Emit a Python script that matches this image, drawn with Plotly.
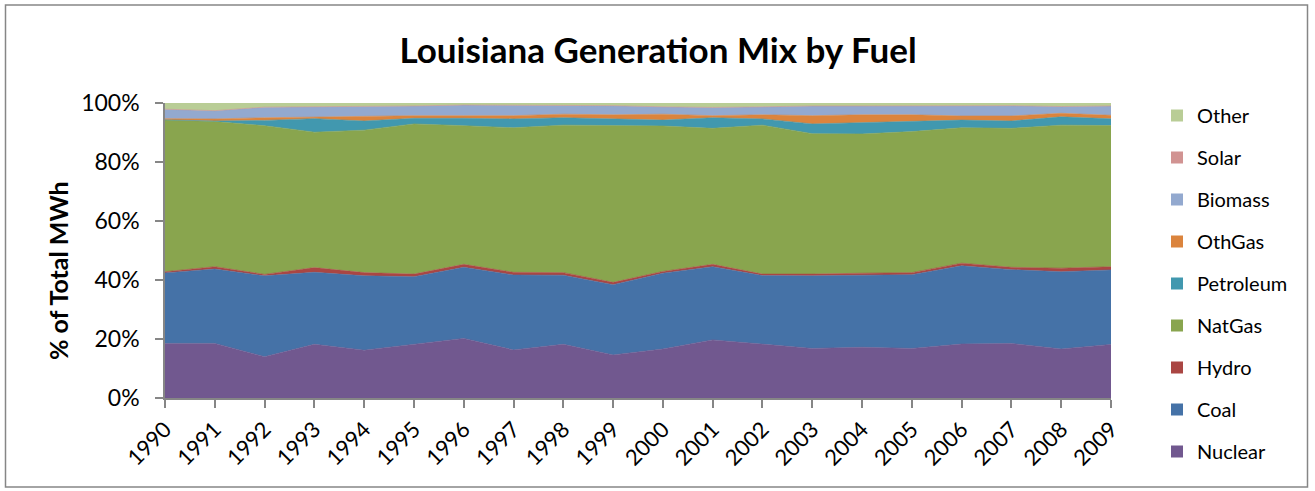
import plotly.graph_objects as go

years = list(range(1990, 2010))

nuclear  = [18.5, 18.5, 14.0, 18.2, 16.2, 18.3, 20.2, 16.3, 18.2, 14.6, 16.6, 19.7, 18.2, 16.8, 17.2, 16.8, 18.3, 18.5, 16.6, 18.3]
coal     = [23.9, 25.2, 27.4, 24.4, 25.2, 22.8, 24.1, 25.4, 23.4, 23.8, 25.7, 24.8, 23.3, 24.6, 24.4, 25.0, 26.5, 25.0, 26.2, 25.4]
hydro    = [0.4, 0.8, 0.5, 1.6, 1.1, 0.9, 1.0, 0.9, 0.9, 0.8, 0.6, 0.8, 0.5, 0.6, 0.7, 0.7, 0.9, 0.8, 1.2, 1.1]
natgas   = [51.4, 49.2, 50.4, 45.9, 48.3, 50.9, 47.0, 49.0, 50.0, 53.1, 49.3, 46.1, 50.5, 47.6, 47.2, 47.8, 45.9, 47.1, 48.5, 48.2]
petroleum = [0.1, 0.2, 1.8, 4.6, 3.1, 1.9, 2.5, 3.0, 2.5, 2.4, 2.0, 3.6, 2.1, 3.3, 3.9, 3.5, 2.6, 2.5, 2.8, 2.3]
othgas   = [0.4, 0.7, 0.9, 0.6, 1.6, 0.9, 0.9, 1.1, 1.2, 1.3, 2.0, 0.7, 1.4, 2.8, 2.6, 2.2, 1.4, 1.7, 1.2, 1.2]
biomass  = [3.2, 2.8, 3.6, 3.4, 3.3, 3.3, 3.6, 3.6, 2.9, 3.1, 2.5, 2.8, 2.7, 3.3, 3.0, 3.0, 3.5, 3.5, 2.3, 3.2]
solar    = [0.0] * 20
other    = [2.1, 2.6, 1.4, 1.3, 1.2, 1.0, 0.7, 0.7, 0.9, 0.9, 1.3, 1.5, 1.3, 1.0, 1.0, 1.0, 0.9, 0.9, 1.2, 1.0]

series = [
    ("Nuclear", nuclear, "#71588F"),
    ("Coal", coal, "#4572A7"),
    ("Hydro", hydro, "#AA4643"),
    ("NatGas", natgas, "#89A54E"),
    ("Petroleum", petroleum, "#4198AF"),
    ("OthGas", othgas, "#DB843D"),
    ("Biomass", biomass, "#93A9CF"),
    ("Solar", solar, "#D19392"),
    ("Other", other, "#B9CD96"),
]

PL, PR, PT, PB = 165, 1111, 103, 398
PW, PH = PR - PL, PB - PT

font_family = "Lato, 'Open Sans', sans-serif"

fig = go.Figure()
n = len(series)
for i, (name, vals, col) in enumerate(series):
    fig.add_trace(go.Scatter(
        x=years, y=vals, name=name, mode="lines",
        stackgroup="one", groupnorm="percent",
        line=dict(width=0.6, color=col),
        fillcolor=col, showlegend=False, hoverinfo="x+y+name",
    ))
# legend swatches (square markers like the original)
for i, (name, vals, col) in enumerate(series):
    fig.add_trace(go.Bar(
        x=[None], y=[None], name=name, marker=dict(color=col, line=dict(width=0)),
        legendgroup=name, legendrank=n - i, showlegend=True, hoverinfo="skip",
    ))

fig.update_layout(
    width=1315, height=491,
    margin=dict(l=PL, r=1315 - PR, t=PT, b=491 - PB, autoexpand=False),
    paper_bgcolor="white", plot_bgcolor="white",
    font=dict(family=font_family, color="black"),
    title=dict(text="<b>Louisiana Generation Mix by Fuel</b>",
               x=658 / 1315, xref="container", xanchor="center",
               y=1 - 51 / 491, yref="container", yanchor="middle",
               font=dict(size=35, family=font_family, color="black")),
    showlegend=True,
    legend=dict(traceorder="grouped", tracegroupgap=13,
                x=(1157 - PL) / PW, xanchor="left", xref="paper",
                y=(PB - 96) / PH, yanchor="top",
                font=dict(size=20, family=font_family),
                itemwidth=30, bgcolor="rgba(0,0,0,0)", maxheight=420),
    xaxis=dict(range=[1990, 2009], type="linear", tickmode="array", tickvals=years,
               ticktext=[str(y) for y in years], tickangle=-45,
               showline=True, linecolor="#868686", linewidth=1.5,
               ticks="outside", ticklen=8, tickcolor="#868686", tickwidth=1.5,
               showgrid=False, zeroline=False, automargin=False,
               tickfont=dict(size=22, family=font_family)),
    yaxis=dict(range=[0, 100], tickmode="array",
               tickvals=[0, 20, 40, 60, 80, 100],
               ticktext=["0%", "20%", "40%", "60%", "80%", "100%"],
               showline=True, linecolor="#868686", linewidth=1.5,
               ticks="outside", ticklen=8, tickcolor="#868686", tickwidth=1.5,
               ticklabelstandoff=11,
               showgrid=False, zeroline=False, automargin=False,
               tickfont=dict(size=23, family=font_family)),
)

fig.add_annotation(text="<b>% of Total MWh</b>", textangle=-90,
                   xref="paper", yref="paper",
                   x=(58 - PL) / PW, y=(PB - 271) / PH,
                   xanchor="center", yanchor="middle", showarrow=False,
                   font=dict(size=25, family=font_family, color="black"))

fig.add_shape(type="rect", xref="paper", yref="paper",
              x0=(5.5 - PL) / PW, x1=(1307.5 - PL) / PW,
              y0=(PB - 487) / PH, y1=(PB - 5) / PH,
              line=dict(color="#868686", width=1.5), fillcolor="rgba(0,0,0,0)",
              layer="below")

fig.write_html("out.html",
               config={"displayModeBar": False},
               post_script="document.body.style.margin='0';document.body.style.overflow='hidden';")
